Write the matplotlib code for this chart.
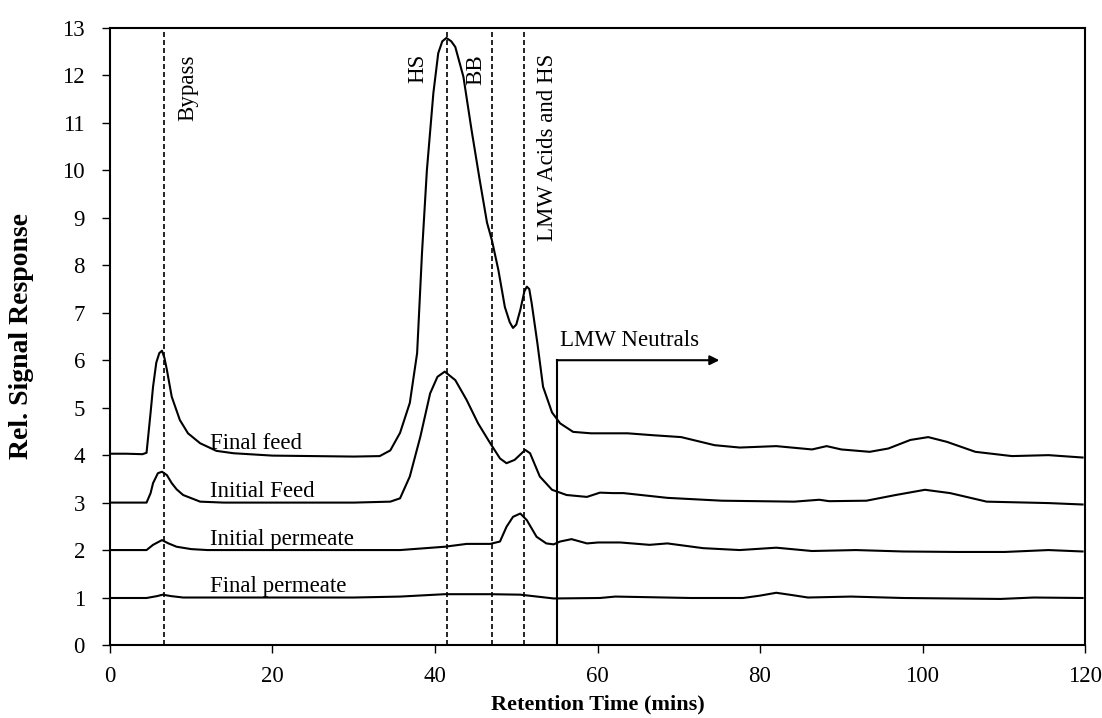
import matplotlib
matplotlib.use("Agg")
import matplotlib.pyplot as plt

plt.rcParams['font.family'] = ['Liberation Serif', 'DejaVu Serif']

# chromatogram traces (retention time in mins, relative signal)
final_feed_x = [0, 2, 4.0, 4.5, 5.0, 5.3, 5.7, 6.07, 6.4, 6.7, 7.0, 7.6, 8.6, 9.6, 11.1, 13.1, 15.2,
                20, 25, 30, 33.2, 34.5, 35.7, 36.9, 37.8, 38.4, 39.0, 39.8, 40.4, 40.9, 41.4, 42.0,
                42.5, 43.5, 44.5, 45.5, 46.4, 47.0, 47.8, 48.6, 49.2, 49.6, 50.0, 50.5, 51.0, 51.3,
                51.6, 51.9, 52.6, 53.3, 54.4, 55.4, 57.0, 59.2, 63.7, 66.8, 70.3, 74.4, 77.5, 82.0,
                86.4, 88.2, 90.0, 93.5, 95.8, 98.5, 100.7, 103.0, 106.5, 111.0, 115.5, 119.7]
final_feed_y = [4.03, 4.03, 4.02, 4.05, 4.9, 5.44, 5.95, 6.15, 6.2, 6.05, 5.8, 5.23, 4.74, 4.46, 4.25, 4.09, 4.04,
                3.99, 3.98, 3.97, 3.98, 4.1, 4.47, 5.1, 6.15, 8.26, 10.0, 11.63, 12.47, 12.72, 12.79, 12.72,
                12.6, 11.97, 10.85, 9.8, 8.9, 8.53, 7.9, 7.12, 6.8, 6.68, 6.75, 7.06, 7.45, 7.55,
                7.5, 7.2, 6.36, 5.44, 4.9, 4.67, 4.49, 4.46, 4.46, 4.42, 4.38, 4.21, 4.16, 4.19,
                4.12, 4.19, 4.12, 4.07, 4.14, 4.32, 4.38, 4.28, 4.07, 3.98, 4.0, 3.95]

initial_feed_x = [0, 4.5, 5.0, 5.3, 5.9, 6.4, 7.0, 7.6, 8.2, 9.0, 11.1, 14, 20, 30, 34.5, 35.7, 36.9,
                  38.2, 39.4, 40.3, 41.2, 42.5, 43.9, 45.3, 46.8, 48.0, 48.8, 49.8, 51.1, 51.7, 52.9,
                  54.4, 56.2, 58.7, 60.3, 61.9, 63.2, 68.6, 75.3, 84.2, 87.3, 88.5, 93.1, 96.7, 100.3,
                  103.4, 107.9, 115.5, 119.7]
initial_feed_y = [3.0, 3.0, 3.2, 3.41, 3.62, 3.65, 3.58, 3.41, 3.28, 3.16, 3.02, 3.0, 3.0, 3.0, 3.02, 3.09, 3.55,
                  4.39, 5.3, 5.65, 5.76, 5.58, 5.16, 4.67, 4.25, 3.93, 3.83, 3.9, 4.11, 4.04, 3.55,
                  3.27, 3.16, 3.12, 3.21, 3.2, 3.2, 3.1, 3.04, 3.02, 3.06, 3.03, 3.04, 3.16, 3.27,
                  3.2, 3.02, 2.99, 2.96]

initial_perm_x = [0, 4.5, 5.3, 6.4, 7.2, 8.2, 10, 12, 20, 30, 35.7, 41.2, 43.9, 46.8, 48.0, 48.8, 49.6,
                  50.5, 51.3, 52.5, 53.7, 54.6, 55.4, 56.8, 58.7, 60.1, 62.8, 66.4, 68.6, 73.0, 77.5,
                  82.0, 86.4, 91.8, 97.6, 104.3, 110.1, 115.5, 119.7]
initial_perm_y = [2.0, 2.0, 2.11, 2.21, 2.14, 2.07, 2.02, 2.0, 2.0, 2.0, 2.0, 2.07, 2.13, 2.13, 2.18, 2.49, 2.7,
                  2.77, 2.63, 2.28, 2.14, 2.12, 2.18, 2.23, 2.14, 2.16, 2.16, 2.11, 2.14, 2.04, 2.0,
                  2.05, 1.98, 2.0, 1.97, 1.96, 1.96, 2.0, 1.97]

final_perm_x = [0, 4.5, 5.8, 6.5, 7.5, 9, 20, 30, 35.7, 41.2, 46.8, 50.5, 54.6, 60.3, 62.2, 71.5, 77.9,
                80, 82.0, 84, 85.9, 91.2, 97.6, 109.6, 113.7, 119.7]
final_perm_y = [0.99, 0.99, 1.03, 1.06, 1.03, 1.0, 1.0, 1.0, 1.02, 1.07, 1.07, 1.06, 0.98, 0.99, 1.02, 0.99, 0.99,
                1.04, 1.10, 1.05, 1.0, 1.02, 0.99, 0.97, 1.0, 0.99]

series = [
    ("Final feed", final_feed_x, final_feed_y, 4.13),
    ("Initial Feed", initial_feed_x, initial_feed_y, 3.12),
    ("Initial permeate", initial_perm_x, initial_perm_y, 2.1),
    ("Final permeate", final_perm_x, final_perm_y, 1.12),
]

# fraction boundaries
fraction_x = [6.6, 41.5, 47.0, 51.0]
fraction_labels = ["Bypass", "HS", "BB", "LMW Acids and HS"]
fraction_label_x = [9.6, 37.85, 45.0, 53.85]

neutrals_x = 55.0
neutrals_top = 6.0
neutrals_arrow_end = 75.0

fig = plt.figure(figsize=(11.02, 7.18), dpi=100)
ax = fig.add_axes([0.0998, 0.1017, 0.8848, 0.8593])

for name, xs, ys, ly in series:
    ax.plot(xs, ys, color='black', lw=1.5)
    ax.text(12.3, ly, name, fontsize=16.5, va='baseline', ha='left')

for fx in fraction_x:
    ax.plot([fx, fx], [0, 13], color='black', lw=1.2, ls=(0, (3, 1.8)))

for lab, lx in zip(fraction_labels, fraction_label_x):
    ax.text(lx, 12.45, lab, rotation=90, fontsize=16.5, ha='center', va='top')

# LMW neutrals bracket
ax.plot([neutrals_x, neutrals_x], [0, neutrals_top], color='black', lw=1.5)
ax.annotate("", xy=(neutrals_arrow_end, neutrals_top), xytext=(neutrals_x, neutrals_top),
            arrowprops=dict(arrowstyle='-|>', color='black', lw=1.5, mutation_scale=14,
                            shrinkA=0, shrinkB=0))
ax.text(55.4, 6.29, "LMW Neutrals", fontsize=16.5, ha='left', va='baseline')

ax.set_xlim(0, 120)
ax.set_ylim(0, 13)
ax.set_xticks(range(0, 121, 20))
ax.set_yticks(range(0, 14))
ax.tick_params(direction='out', length=6, width=1, labelsize=16.5)
ax.tick_params(axis='x', pad=9)
ax.tick_params(axis='y', pad=12)
for s in ax.spines.values():
    s.set_linewidth(1.5)

ax.set_xlabel("Retention Time (mins)", fontsize=16, fontweight='bold')
ax.set_ylabel("Rel. Signal Response", fontsize=20, fontweight='bold')
ax.xaxis.set_label_coords(0.5, -0.08)
ax.yaxis.set_label_coords(-0.078, 0.5)

fig.savefig("out.png", dpi=100)
